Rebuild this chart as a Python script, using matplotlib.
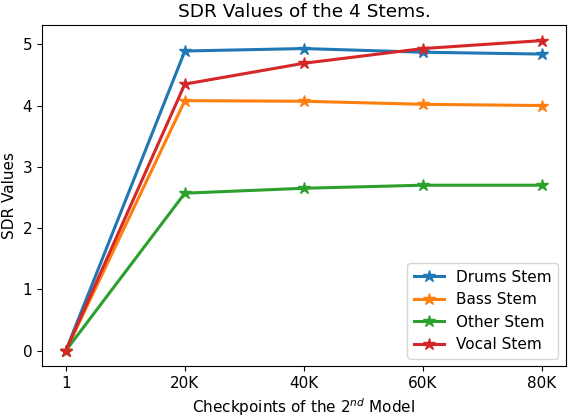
import numpy as np
import matplotlib
matplotlib.use("Agg")
import matplotlib.pyplot as plt

checkpoints = ["1", "20K", "40K", "60K", "80K"]
drums = [0.0, 4.89, 4.93, 4.87, 4.84]
bass = [0.0, 4.08, 4.07, 4.02, 4.00]
other = [0.0, 2.57, 2.65, 2.70, 2.70]
vocal = [0.0, 4.35, 4.69, 4.93, 5.06]

plt.rcParams['font.size'] = 11

fig, ax = plt.subplots(figsize=(5.68, 4.18), dpi=100)
x = np.arange(len(checkpoints))
ax.plot(x, drums, marker="*", markersize=9, linewidth=2.2, label="Drums Stem")
ax.plot(x, bass, marker="*", markersize=9, linewidth=2.2, label="Bass Stem")
ax.plot(x, other, marker="*", markersize=9, linewidth=2.2, label="Other Stem")
ax.plot(x, vocal, marker="*", markersize=9, linewidth=2.2, label="Vocal Stem")

ax.set_xticks(x)
ax.set_xticklabels(checkpoints)
ax.set_title("SDR Values of the 4 Stems.", fontsize=13.3)
ax.set_xlabel("Checkpoints of the 2$^{nd}$ Model")
ax.set_ylabel("SDR Values")
ax.legend(loc="lower right")

fig.subplots_adjust(left=0.074, right=0.996, top=0.94, bottom=0.124)
fig.savefig("out.png")
